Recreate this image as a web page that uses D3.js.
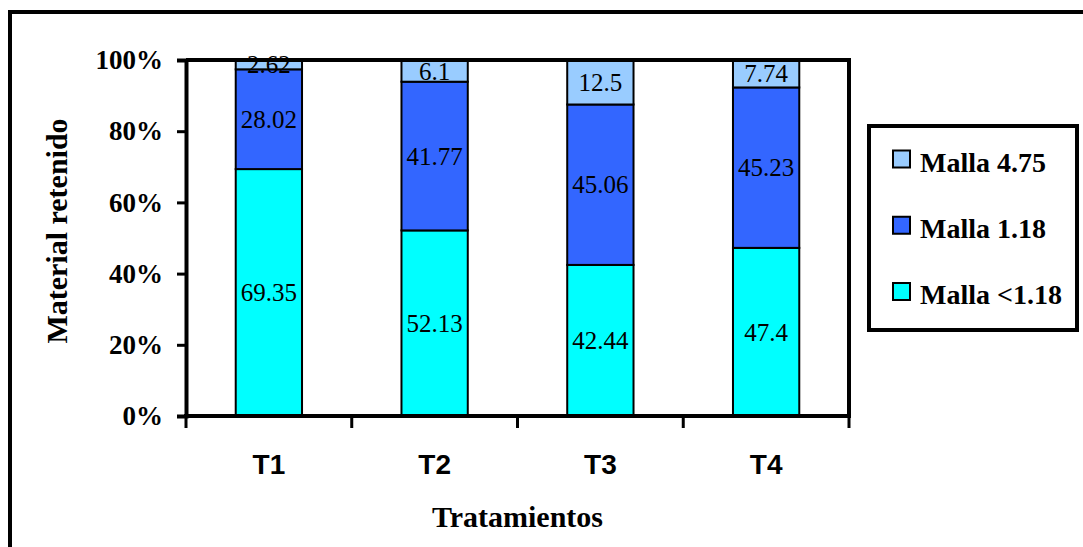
<!DOCTYPE html>
<html>
<head>
<meta charset="utf-8">
<script src="https://cdn.jsdelivr.net/npm/d3@7/dist/d3.min.js"></script>
<style>
  html, body { margin: 0; padding: 0; background: #fff; }
  svg { display: block; }
</style>
</head>
<body>
<svg id="chart" width="1083" height="547"></svg>
<script>
const categories = ["T1", "T2", "T3", "T4"];
const seriesNames = ["Malla <1.18", "Malla 1.18", "Malla 4.75"];
const mallaMenor118 = [69.35, 52.13, 42.44, 47.4];
const malla118 = [28.02, 41.77, 45.06, 45.23];
const malla475 = [2.62, 6.1, 12.5, 7.74];
const seriesColors = ["#00FFFF", "#3366FF", "#99CCFF"];
const yTicks = [0, 0.2, 0.4, 0.6, 0.8, 1.0];
const yTickLabels = ["0%", "20%", "40%", "60%", "80%", "100%"];
const xTitle = "Tratamientos";
const yTitle = "Material retenido";

const seriesValues = [mallaMenor118, malla118, malla475];
const rows = categories.map((c, i) => {
  const r = { cat: c };
  seriesNames.forEach((s, j) => { r[s] = seriesValues[j][i]; });
  return r;
});

const svg = d3.select("#chart");
const serif = "'Liberation Serif', 'Times New Roman', serif";
const sans = "'Liberation Sans', Arial, sans-serif";

// outer frame
svg.append("rect").attr("x", 10).attr("y", 12).attr("width", 1200).attr("height", 700)
  .attr("fill", "#fff").attr("stroke", "#000").attr("stroke-width", 4);

const plot = { left: 186, right: 849, top: 60, bottom: 416 };

const x = d3.scaleBand().domain(categories).range([plot.left, plot.right])
  .paddingInner(0.6).paddingOuter(0.3);
const xTickScale = d3.scaleLinear().domain([0, categories.length]).range([plot.left, plot.right]);
const y = d3.scaleLinear().domain([0, 1]).range([plot.bottom, plot.top]);

const stack = d3.stack().keys(seriesNames).offset(d3.stackOffsetExpand);
const stacked = stack(rows);

// bars
const layers = svg.append("g").selectAll("g").data(stacked).join("g")
  .attr("fill", (d, i) => seriesColors[i]);
layers.selectAll("rect").data(d => d).join("rect")
  .attr("x", d => x(d.data.cat))
  .attr("width", x.bandwidth())
  .attr("y", d => y(d[1]))
  .attr("height", d => y(d[0]) - y(d[1]))
  .attr("stroke", "#000").attr("stroke-width", 2);

// value labels
stacked.forEach((layer) => {
  svg.append("g").selectAll("text").data(layer).join("text")
    .attr("x", d => x(d.data.cat) + x.bandwidth() / 2)
    .attr("y", d => (y(d[0]) + y(d[1])) / 2)
    .attr("text-anchor", "middle")
    .attr("dy", "0.35em")
    .attr("font-family", serif)
    .attr("font-size", 25)
    .attr("fill", "#000")
    .text(d => d.data[layer.key]);
});

// plot border (top & right)
svg.append("path")
  .attr("d", `M${plot.left},${plot.top}H${plot.right}V${plot.bottom}`)
  .attr("fill", "none").attr("stroke", "#000").attr("stroke-width", 4);

// y axis
const yAxis = d3.axisLeft(y).tickValues(yTicks).tickFormat((d, i) => yTickLabels[i])
  .tickSize(9).tickPadding(14);
const gy = svg.append("g").attr("transform", `translate(${plot.left},0)`).call(yAxis);
gy.select(".domain").attr("stroke", "#000").attr("stroke-width", 4);
gy.selectAll(".tick line").attr("stroke", "#000").attr("stroke-width", 3);
gy.selectAll(".tick text").attr("font-family", serif).attr("font-size", 27)
  .attr("font-weight", "bold").attr("fill", "#000");

// x axis: ticks between categories
const gx = svg.append("g").attr("transform", `translate(0,${plot.bottom})`);
gx.append("line").attr("x1", plot.left - 2).attr("x2", plot.right + 2)
  .attr("stroke", "#000").attr("stroke-width", 4);
gx.selectAll("line.tk").data(d3.range(categories.length + 1)).join("line")
  .attr("class", "tk")
  .attr("x1", d => xTickScale(d)).attr("x2", d => xTickScale(d))
  .attr("y1", 0).attr("y2", 12)
  .attr("stroke", "#000").attr("stroke-width", 3);
gx.selectAll("text").data(categories).join("text")
  .attr("x", d => x(d) + x.bandwidth() / 2)
  .attr("y", 58)
  .attr("text-anchor", "middle")
  .attr("font-family", sans).attr("font-weight", "bold").attr("font-size", 28)
  .attr("fill", "#000")
  .text(d => d);

// axis titles
svg.append("text").attr("x", (plot.left + plot.right) / 2).attr("y", 527)
  .attr("text-anchor", "middle").attr("font-family", serif).attr("font-weight", "bold")
  .attr("font-size", 30).attr("fill", "#000").text(xTitle);
svg.append("text").attr("transform", `translate(67,${231}) rotate(-90)`)
  .attr("text-anchor", "middle").attr("font-family", serif).attr("font-weight", "bold")
  .attr("font-size", 30).attr("fill", "#000").text(yTitle);

// legend
const legend = svg.append("g");
legend.append("rect").attr("x", 869).attr("y", 126).attr("width", 208).attr("height", 204)
  .attr("fill", "#fff").attr("stroke", "#000").attr("stroke-width", 4);
const legendOrder = [2, 1, 0];
const ly = d3.scalePoint().domain(legendOrder).range([159.5, 292]);
const items = legend.selectAll("g.item").data(legendOrder).join("g").attr("class", "item")
  .attr("transform", d => `translate(0,${ly(d)})`);
items.append("rect").attr("x", 893).attr("y", -9).attr("width", 17).attr("height", 17)
  .attr("fill", d => seriesColors[d]).attr("stroke", "#000").attr("stroke-width", 2);
items.append("text").attr("x", 920).attr("y", 12)
  .attr("font-family", serif).attr("font-weight", "bold").attr("font-size", 28)
  .attr("fill", "#000").text(d => seriesNames[d]);
</script>
</body>
</html>
